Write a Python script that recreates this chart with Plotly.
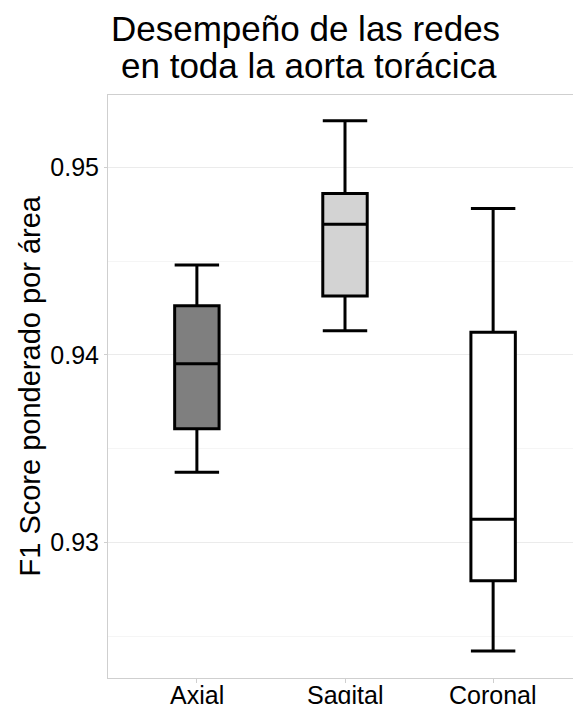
import plotly.graph_objects as go

categories = ["Axial", "Sagital", "Coronal"]
upper_whisker = [0.94479, 0.95249, 0.94781]
q3_values = [0.94262, 0.94861, 0.94121]
median_values = [0.93952, 0.94696, 0.93123]
q1_values = [0.93605, 0.94314, 0.92795]
lower_whisker = [0.93374, 0.94129, 0.92420]
fill_colors = ["#7f7f7f", "#d3d3d3", "#ffffff"]

title_line1 = "Desempeño de las redes"
title_line2 = "en toda la aorta torácica"
y_title = "F1 Score ponderado por área"
y_ticks = [0.93, 0.94, 0.95]
y_tick_labels = ["0.93", "0.94", "0.95"]

FONT = "Liberation Sans, Arial, sans-serif"
OFF = 8  # page body margin
W, H = 574, 696
L, R, T, B = 100, 0, 87, 26
pw = W - L - R
ph = H - T - B

def sx(px):  # screen x -> paper x
    return (px - OFF - L) / pw

def sy(py):  # screen y -> paper y
    return (H - B - (py - OFF)) / ph

fig = go.Figure()
for i, cat in enumerate(categories):
    fig.add_trace(go.Box(
        x=[cat],
        q1=[q1_values[i]], median=[median_values[i]], q3=[q3_values[i]],
        lowerfence=[lower_whisker[i]], upperfence=[upper_whisker[i]],
        fillcolor=fill_colors[i],
        line=dict(color="#000000", width=3),
        width=0.3, whiskerwidth=1, boxpoints=False,
        showlegend=False, hoverinfo="skip",
    ))

annotations = [
    dict(text=title_line1, x=sx(305), y=sy(28),
         xref="paper", yref="paper", showarrow=False,
         xanchor="center", yanchor="middle",
         font=dict(family=FONT, size=35, color="#000000")),
    dict(text=title_line2, x=sx(309), y=sy(66),
         xref="paper", yref="paper", showarrow=False,
         xanchor="center", yanchor="middle",
         font=dict(family=FONT, size=35, color="#000000")),
    dict(text=y_title, x=sx(29), y=0.5,
         xref="paper", yref="paper", showarrow=False, textangle=-90,
         xanchor="center", yanchor="middle",
         font=dict(family=FONT, size=29, color="#000000")),
]
for cat in categories:
    annotations.append(dict(
        text=cat, x=cat, y=sy(679), xref="x", yref="paper",
        showarrow=False, xanchor="center", yanchor="top",
        font=dict(family=FONT, size=25, color="#000000")))

fig.update_layout(
    width=W, height=H,
    margin=dict(l=L, r=R, t=T, b=B, autoexpand=False),
    paper_bgcolor="white", plot_bgcolor="white",
    font=dict(family=FONT, color="#000000"),
    showlegend=False,
    annotations=annotations,
)

fig.update_xaxes(
    type="category", range=[-0.6, 2.6],
    showgrid=False, showline=True, linecolor="#cfcfcf", linewidth=1, mirror=True,
    ticks="outside", ticklen=4, tickcolor="#cfcfcf", tickwidth=1,
    showticklabels=False,
    automargin=False, zeroline=False,
)
fig.update_yaxes(
    range=[0.92276, 0.95386],
    tickvals=y_ticks, ticktext=y_tick_labels,
    showgrid=True, gridcolor="#ebebeb", gridwidth=1,
    minor=dict(dtick=0.005, tick0=0.925, showgrid=True, gridcolor="#f5f5f5", gridwidth=1),
    showline=True, linecolor="#cfcfcf", linewidth=1, mirror=False,
    ticks="outside", ticklen=3, tickcolor="#cfcfcf", tickwidth=1,
    tickfont=dict(family=FONT, size=25, color="#000000"),
    automargin=False, zeroline=False,
)

fig.write_html("out.html")
